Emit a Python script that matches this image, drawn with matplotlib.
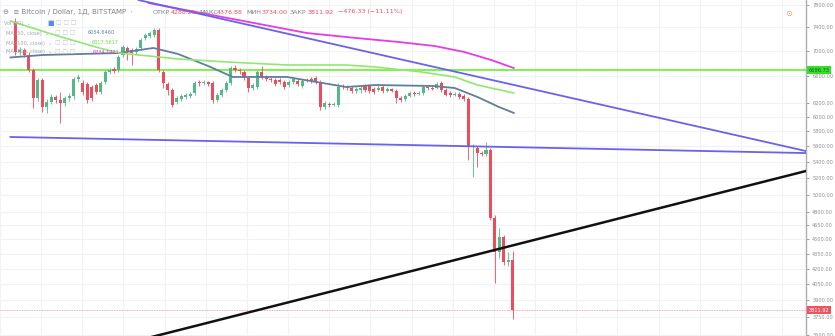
import numpy as np
import matplotlib.pyplot as plt
from matplotlib.ticker import FuncFormatter, NullLocator
from matplotlib.transforms import blended_transform_factory

# daily candles, BTC/USD Bitstamp
opens = [7495, 6986, 7019, 6937, 6697, 6271, 6541, 6140, 6212, 6286,
         6242, 6198, 6271, 6300, 6557, 6496, 6480, 6435, 6465, 6360,
         6511, 6665, 6713, 6697, 6937, 7052, 7019, 6986, 7052, 7219,
         7253, 7270, 7356, 6665, 6480, 6390, 6212, 6256, 6286, 6300,
         6345, 6511, 6496, 6511, 6496, 6242, 6315, 6390, 6496, 6728,
         6697, 6665, 6572, 6420, 6435, 6665, 6588, 6557, 6541, 6541,
         6511, 6465, 6511, 6526, 6450, 6526, 6557, 6572, 6511, 6140,
         6183, 6169, 6169, 6450, 6435, 6420, 6375, 6390, 6450, 6450,
         6405, 6390, 6435, 6375, 6405, 6375, 6271, 6256, 6300, 6345,
         6330, 6345, 6435, 6420, 6420, 6496, 6390, 6345, 6315, 6330,
         6300, 6256, 5590, 5577, 5512, 5499, 5551, 4733, 4370, 4526,
         4269, 4288.25]
highs = [7566, 7068, 7052, 6986, 6728, 6572, 6572, 6256, 6330, 6315,
         6360, 6300, 6345, 6588, 6634, 6541, 6511, 6465, 6496, 6526,
         6697, 6728, 6744, 6937, 7102, 7085, 7052, 7068, 7219, 7305,
         7339, 7391, 7391, 6697, 6511, 6420, 6300, 6330, 6345, 6360,
         6526, 6541, 6541, 6526, 6526, 6345, 6420, 6526, 6760, 6776,
         6728, 6697, 6603, 6496, 6697, 6760, 6619, 6588, 6572, 6572,
         6541, 6541, 6588, 6557, 6557, 6572, 6588, 6603, 6541, 6227,
         6212, 6212, 6496, 6480, 6465, 6450, 6435, 6450, 6480, 6480,
         6435, 6465, 6465, 6435, 6420, 6405, 6300, 6330, 6375, 6375,
         6375, 6465, 6465, 6450, 6511, 6526, 6420, 6375, 6360, 6360,
         6330, 6286, 5630, 5603, 5538, 5656, 5577, 4766, 4622, 4547,
         4370, 4376.88]
lows = [6937, 6937, 6905, 6665, 6125, 6227, 6068, 6054, 6183, 6198,
        5914, 6154, 6227, 6256, 6511, 6315, 6198, 6227, 6330, 6330,
        6480, 6634, 6650, 6665, 6905, 6856, 6776, 6953, 7019, 7186,
        7219, 7236, 6665, 6420, 6315, 6140, 6183, 6227, 6256, 6271,
        6315, 6450, 6465, 6450, 6198, 6212, 6286, 6360, 6465, 6665,
        6634, 6541, 6360, 6390, 6405, 6557, 6526, 6511, 6450, 6480,
        6405, 6435, 6480, 6450, 6420, 6511, 6496, 6480, 6097, 6111,
        6140, 6154, 6140, 6405, 6390, 6345, 6345, 6345, 6360, 6345,
        6330, 6375, 6345, 6360, 6360, 6198, 6212, 6227, 6286, 6300,
        6315, 6315, 6390, 6390, 6405, 6360, 6300, 6286, 6300, 6256,
        6227, 5422, 5210, 5334, 5473, 5473, 4711, 4063, 4309, 4239,
        4229, 3734.00]
closes = [6986, 7019, 6937, 6697, 6271, 6541, 6140, 6212, 6286, 6242,
          6198, 6271, 6300, 6557, 6588, 6360, 6242, 6271, 6360, 6496,
          6665, 6697, 6681, 6905, 7068, 6986, 6970, 7035, 7186, 7270,
          7305, 7356, 6697, 6496, 6390, 6169, 6271, 6300, 6315, 6330,
          6496, 6496, 6511, 6480, 6242, 6315, 6390, 6496, 6728, 6697,
          6681, 6572, 6420, 6465, 6665, 6588, 6557, 6541, 6480, 6511,
          6435, 6511, 6557, 6480, 6526, 6541, 6526, 6511, 6140, 6198,
          6169, 6183, 6435, 6435, 6420, 6375, 6405, 6420, 6390, 6375,
          6360, 6420, 6375, 6405, 6375, 6271, 6242, 6300, 6345, 6330,
          6345, 6435, 6420, 6405, 6480, 6390, 6315, 6315, 6330, 6286,
          6256, 5590, 5603, 5512, 5499, 5551, 4733, 4370, 4526, 4269,
          4289, 3811.92]

# moving averages, read at a few bars
ma50_idx = [-1.1, 6.2, 23.1, 30.8, 36.3, 43, 48.5, 60.6, 73.8, 80.4, 93.2, 98, 103.1, 107.9, 111.2]
ma50_val = [6897, 6937, 6969, 7052, 6953, 6760, 6588, 6588, 6435, 6465, 6450, 6420, 6286, 6140, 6055]
ma100_idx = [-1.1, 8.8, 18.7, 23.1, 31.9, 36.3, 47.4, 60.6, 73.8, 80.4, 90.7, 98, 103.1, 111.2]
ma100_val = [7512, 7269, 7052, 6969, 6905, 6872, 6823, 6776, 6776, 6744, 6665, 6588, 6465, 6345]
ma200_idx = [29.7, 47.4, 65, 76, 85.5, 93.6, 100.2, 106.2, 111.2]
ma200_val = [7837, 7565, 7304, 7219, 7152, 7084, 6985, 6855, 6728]

# drawn lines (anchor bar, price)
fall_line = [(27.5, 7891), (176.4, 5537)]
flat_line = [(-1.1, 5723), (176.4, 5511)]
rise_line = [(20.9, 3490), (176.4, 5284)]
level_green = 6696.73
last_close = 3811.92

price_ticks = [7800, 7400, 7000, 6600, 6200, 6000, 5800, 5600, 5400, 5200,
               5000, 4800, 4650, 4500, 4350, 4200, 4050, 3900, 3750, 3600]

up_col = '#53b987'
dn_col = '#eb4d5c'

W, H = 835, 336
fig = plt.figure(figsize=(W / 100, H / 100), dpi=100)
fig.patch.set_facecolor('white')
ax = fig.add_axes([0, 0, 806 / W, 1])
ax.set_facecolor('white')
ax.set_yscale('log')
ax.set_ylim(3588, 7892)
ax.set_xlim(-1.1, 176.4)

# grid
ax.set_yticks(price_ticks)
ax.yaxis.set_minor_locator(NullLocator())
ax.yaxis.set_major_formatter(FuncFormatter(lambda v, p: f'{v:.2f}'))
ax.yaxis.tick_right()
ax.tick_params(axis='y', labelsize=3.6, colors='#8a8e96', length=2.5, pad=2, width=0.6)
ax.set_xticks(np.arange(70.04 - 9.185 * 8, 177, 9.185))
ax.tick_params(axis='x', length=0, labelbottom=False)
ax.grid(True, color='#f0f2f6', lw=0.8)
ax.set_axisbelow(True)
for s in ['top', 'left', 'bottom']:
    ax.spines[s].set_visible(False)
ax.spines['right'].set_color('#a9adb4')
ax.spines['right'].set_linewidth(1.0)

# candles
o = np.array(opens, dtype=float)
hi = np.array(highs, dtype=float)
lo = np.array(lows, dtype=float)
c = np.array(closes, dtype=float)
idx = np.arange(len(c))
cols = np.where(c >= o, up_col, dn_col)
ax.vlines(idx, lo, hi, colors=cols, lw=0.6, zorder=3)
bot = np.minimum(o, c)
hgt = np.maximum(np.abs(c - o), bot * 0.0025)
ax.bar(idx, hgt, bottom=bot, width=0.68, color=cols, linewidth=0, zorder=4)

# moving averages
ax.plot(ma50_idx, ma50_val, color='#5f7f9c', lw=1.3, zorder=5)
ax.plot(ma100_idx, ma100_val, color='#8fe870', lw=1.2, zorder=5)
ax.plot(ma200_idx, ma200_val, color='#e43ce6', lw=1.3, zorder=5)

# user drawings
ax.axhline(level_green, color='#74f23c', lw=1.3, zorder=2)
ax.axhline(last_close, color='#f08a92', lw=0.6, ls=(0, (1, 1)), zorder=2)
ax.plot(*zip(*fall_line), color='#6a62ea', lw=1.3, zorder=6)
ax.plot(*zip(*flat_line), color='#6a62ea', lw=1.3, zorder=6)
ax.plot(*zip(*rise_line), color='#111111', lw=1.8, zorder=6)

# price labels on the scale
tr = blended_transform_factory(ax.transAxes, ax.transData)
ax.text(1.003, level_green, f'{level_green:.2f}', transform=tr, fontsize=3.6,
        color='#1a5d10', va='center', ha='left', clip_on=False, zorder=10,
        bbox=dict(boxstyle='square,pad=0.35', fc='#33e02a', ec='none'))
ax.text(1.003, last_close, f'{last_close:.2f}', transform=tr, fontsize=3.6,
        color='white', va='center', ha='left', clip_on=False, zorder=10,
        bbox=dict(boxstyle='square,pad=0.35', fc='#f0545f', ec='none'))


def px(x, y):
    return x / W, 1 - y / H


# header
grey = '#7d8189'
red = '#e8505b'
fig.text(*px(3, 12), '⊖  ≡ Bitcoin / Dollar, 1Д, BITSTAMP  ·', fontsize=5, color=grey, va='center')
hdr = [(153, 'ОТКР', grey), (171, '4288.25', red), (199, 'МАКС', grey), (217, '4376.88', red),
       (246, 'МИН', grey), (262, '3734.00', red), (290, 'ЗАКР', grey), (308, '3811.92', red),
       (338, '−476.33 (−11.11%)', red)]
for x, t, col in hdr:
    fig.text(*px(x, 12), t, fontsize=4.6, color=col, va='center')

# legend rows
lg = '#a3a8b0'
fig.text(*px(4, 23), 'Vol (20)  ⌄', fontsize=3.6, color=lg, va='center')
fig.text(*px(47, 23), '■', fontsize=5, color='#4f8ff0', va='center')
fig.text(*px(56, 23), '□ □ □', fontsize=4.2, color='#c2c6cc', va='center')
rows = [(33, 'MA (50, close)  ⌄', '6054.6460', '#5f7f9c', 88),
        (43, 'MA (100, close)  ⌄', '6317.5617', '#6fd84a', 92),
        (52, 'MA (200, close)  ⌄', '6734.1221', '#d63ad8', 93)]
for y, t, v, col, xv in rows:
    fig.text(*px(6, y), t, fontsize=3.6, color=lg, va='center')
    fig.text(*px(55, y), '□ □ □', fontsize=4.2, color='#c2c6cc', va='center')
    fig.text(*px(xv, y), v, fontsize=3.6, color=col, va='center')

# small icon top right
fig.text(*px(785, 13), '⊙', fontsize=6, color='#f0a060', va='center')

fig.savefig('out.png', dpi=100, facecolor='white')
